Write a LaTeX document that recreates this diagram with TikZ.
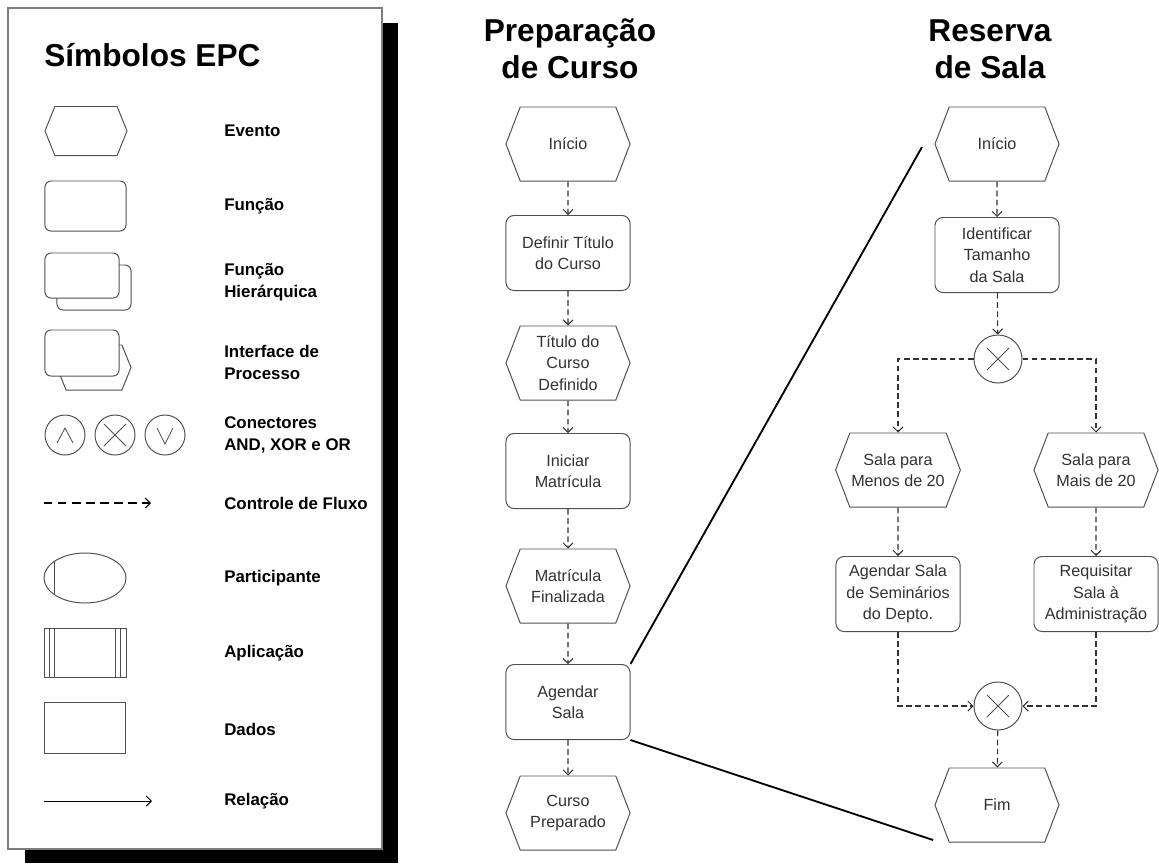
\documentclass[tikz,border=0pt]{standalone}
\usepackage{fontspec}
\setmainfont{Liberation Sans}
\usetikzlibrary{shapes.symbols, shapes.geometric, arrows.meta, calc}
\definecolor{epcline}{RGB}{80,80,80}
\definecolor{epctext}{RGB}{50,50,50}
\definecolor{epcflow}{RGB}{50,50,50}
\definecolor{epcframe}{RGB}{125,125,125}
\newcommand{\epcnodefont}{\fontsize{11.5}{15.3}\selectfont}
\newcommand{\epclegfont}{\fontsize{12}{15.6}\selectfont\bfseries}
\newcommand{\epctitfont}{\fontsize{22.5}{26}\selectfont\bfseries}
\tikzset{
  evento/.style={signal, signal to=west and east, signal pointer angle=138,
    draw=epcline, fill=white, line width=0.7pt, minimum width=3.1cm,
    minimum height=1.85cm, inner sep=1pt, align=center,
    font=\epcnodefont, text=epctext},
  funcao/.style={rectangle, rounded corners=0.2cm, draw=epcline, fill=white,
    line width=0.7pt, minimum width=3.1cm, minimum height=1.875cm,
    inner sep=1pt, align=center, font=\epcnodefont, text=epctext},
  simbolo/.style={draw=epcline, fill=white, line width=0.7pt, inner sep=0pt},
  conector/.style={circle, draw=epcline, fill=white, line width=0.7pt,
    minimum size=1.2cm, inner sep=0pt},
  xorsym/.style={path picture={
    \draw[epcline, line width=0.6pt]
      ($(path picture bounding box.center)+(-11,-11)$) -- ($(path picture bounding box.center)+(11,11)$)
      ($(path picture bounding box.center)+(-11,11)$) -- ($(path picture bounding box.center)+(11,-11)$);}},
  fluxo/.style={-{Straight Barb[length=3.5pt, width=7pt]}, dash pattern=on 4pt off 2.5pt,
    color=epcflow, line width=0.75pt},
  relacao/.style={line width=1.3pt, color=black},
  rotulo/.style={anchor=west, align=left, inner sep=0pt, font=\epclegfont},
  titulo/.style={align=center, inner sep=0pt, font=\epctitfont}
}
\begin{document}
\begin{tikzpicture}[x=0.025cm, y=-0.025cm]
  \useasboundingbox[fill=white] (0,0) rectangle (1159,864);

  % Legend panel with shadow
  \fill[black] (25,23) rectangle (398,863);
  \draw[fill=white, draw=epcframe, line width=0.8pt] (8,8) rectangle (382,849);
  \node[titulo, anchor=west] (tsimb) at (44,55) {Símbolos EPC};

  % Legend symbols
  \node[evento, minimum width=2.05cm, minimum height=1.225cm, signal pointer angle=136] (lev) at (86,131) {};
  \node[funcao, minimum width=2.025cm, minimum height=1.25cm, rounded corners=0.15cm] (lfun) at (85.5,206) {};
  \node[funcao, minimum width=1.85cm, minimum height=1.125cm, rounded corners=0.15cm] (lhierB) at (94,287.5) {};
  \node[funcao, minimum width=1.85cm, minimum height=1.125cm, rounded corners=0.15cm] (lhierA) at (82,275.5) {};
  \node[evento, minimum width=1.85cm, minimum height=1.125cm, signal pointer angle=136] (lintB) at (94,367.5) {};
  \node[funcao, minimum width=1.85cm, minimum height=1.15cm, rounded corners=0.15cm] (lintA) at (82,353) {};
  \node[conector, minimum size=1cm] (land) at (65,435) {};
  \node[conector, minimum size=1cm, xorsym] (lxor) at (115,435) {};
  \node[conector, minimum size=1cm] (lor) at (165,435) {};
  \draw[epcline, line width=0.6pt] ($(land)+(-8,8)$) -- ($(land)+(0,-7)$) -- ($(land)+(8,8)$);
  \draw[epcline, line width=0.6pt] ($(lor)+(-8,-7)$) -- ($(lor)+(0,9)$) -- ($(lor)+(8,-7)$);
  \coordinate (lfluxA) at (44,503);
  \coordinate (lfluxB) at (151,503);
  \draw[fluxo, color=black, dash pattern=on 6pt off 4pt] (lfluxA) -- (lfluxB);
  \node[simbolo, ellipse, minimum width=2.05cm, minimum height=1.25cm] (lpart) at (85,578) {};
  \draw[epcline, line width=0.7pt] ($(lpart.center)+(-31,-16.4)$) -- ($(lpart.center)+(-31,16.4)$);
  \node[simbolo, rectangle, minimum width=2.025cm, minimum height=1.225cm] (lapl) at (85.5,652.5) {};
  \foreach \dx in {5,10} {
    \draw[epcline, line width=0.7pt] ($(lapl.north west)+(\dx,0)$) -- ($(lapl.south west)+(\dx,0)$);
    \draw[epcline, line width=0.7pt] ($(lapl.north east)+(-\dx-1,0)$) -- ($(lapl.south east)+(-\dx-1,0)$);
  }
  \node[simbolo, rectangle, minimum width=2cm, minimum height=1.275cm] (ldad) at (85,727.5) {};
  \coordinate (lrelA) at (44,801);
  \coordinate (lrelB) at (152,801);
  \draw[-{Straight Barb[length=3.5pt, width=7pt]}, black, line width=0.7pt] (lrelA) -- (lrelB);

  % Legend labels
  \node[rotulo] (tev) at (224,131) {Evento};
  \node[rotulo] (tfun) at (224,206) {Função};
  \node[rotulo] (thier) at (224,282) {Função\\Hierárquica};
  \node[rotulo] (tint) at (224,362) {Interface de\\Processo};
  \node[rotulo] (tcon) at (224,435) {Conectores\\AND, XOR e OR};
  \node[rotulo] (tflux) at (224,503) {Controle de Fluxo};
  \node[rotulo] (tpart) at (224,578) {Participante};
  \node[rotulo] (tapl) at (224,653) {Aplicação};
  \node[rotulo] (tdad) at (224,729) {Dados};
  \node[rotulo] (trel) at (224,801) {Relação};

  % Preparacao de Curso
  \node[titulo] (tprep) at (570,49) {Preparação\\de Curso};
  \node[evento] (ini1) at (568,144) {Início};
  \node[funcao] (deftit) at (568,253) {Definir Título\\do Curso};
  \node[evento] (titdef) at (568,363) {Título do\\Curso\\Definido};
  \node[funcao] (inimat) at (568,471) {Iniciar\\Matrícula};
  \node[evento] (matfin) at (568,586) {Matrícula\\Finalizada};
  \node[funcao] (agsala) at (568,702) {Agendar\\Sala};
  \node[evento] (curprep) at (568,813) {Curso\\Preparado};
  \draw[fluxo] (ini1) -- (deftit);
  \draw[fluxo] (deftit) -- (titdef);
  \draw[fluxo] (titdef) -- (inimat);
  \draw[fluxo] (inimat) -- (matfin);
  \draw[fluxo] (matfin) -- (agsala);
  \draw[fluxo] (agsala) -- (curprep);

  % Reserva de Sala
  \node[titulo] (tres) at (990,49) {Reserva\\de Sala};
  \node[evento] (ini2) at (997,144) {Início};
  \node[funcao] (idtam) at (997,255) {Identificar\\Tamanho\\da Sala};
  \node[conector, xorsym] (xor1) at (998,359) {};
  \node[evento] (menos) at (898,470) {Sala para\\Menos de 20};
  \node[evento] (mais) at (1096,470) {Sala para\\Mais de 20};
  \node[funcao] (agsem) at (898,594) {Agendar Sala\\de Seminários\\do Depto.};
  \node[funcao] (reqsala) at (1096,594) {Requisitar\\Sala à\\Administração};
  \node[conector, xorsym] (xor2) at (998,706) {};
  \node[evento] (fim) at (997,805) {Fim};
  \draw[fluxo] (ini2) -- (idtam);
  \draw[fluxo] (idtam) -- (xor1);
  \draw[fluxo] (xor1.west) -| (menos.north);
  \draw[fluxo] (xor1.east) -| (mais.north);
  \draw[fluxo] (menos) -- (agsem);
  \draw[fluxo] (mais) -- (reqsala);
  \draw[fluxo] (agsem.south) |- (xor2.west);
  \draw[fluxo] (reqsala.south) |- (xor2.east);
  \draw[fluxo] (xor2) -- (fim);

  % Relation of Agendar Sala to its detail
  \coordinate (relA) at (922,147);
  \coordinate (relB) at (933,840);
  \draw[relacao] (agsala.north east) -- (relA);
  \draw[relacao] (agsala.south east) -- (relB);
\end{tikzpicture}
\end{document}
